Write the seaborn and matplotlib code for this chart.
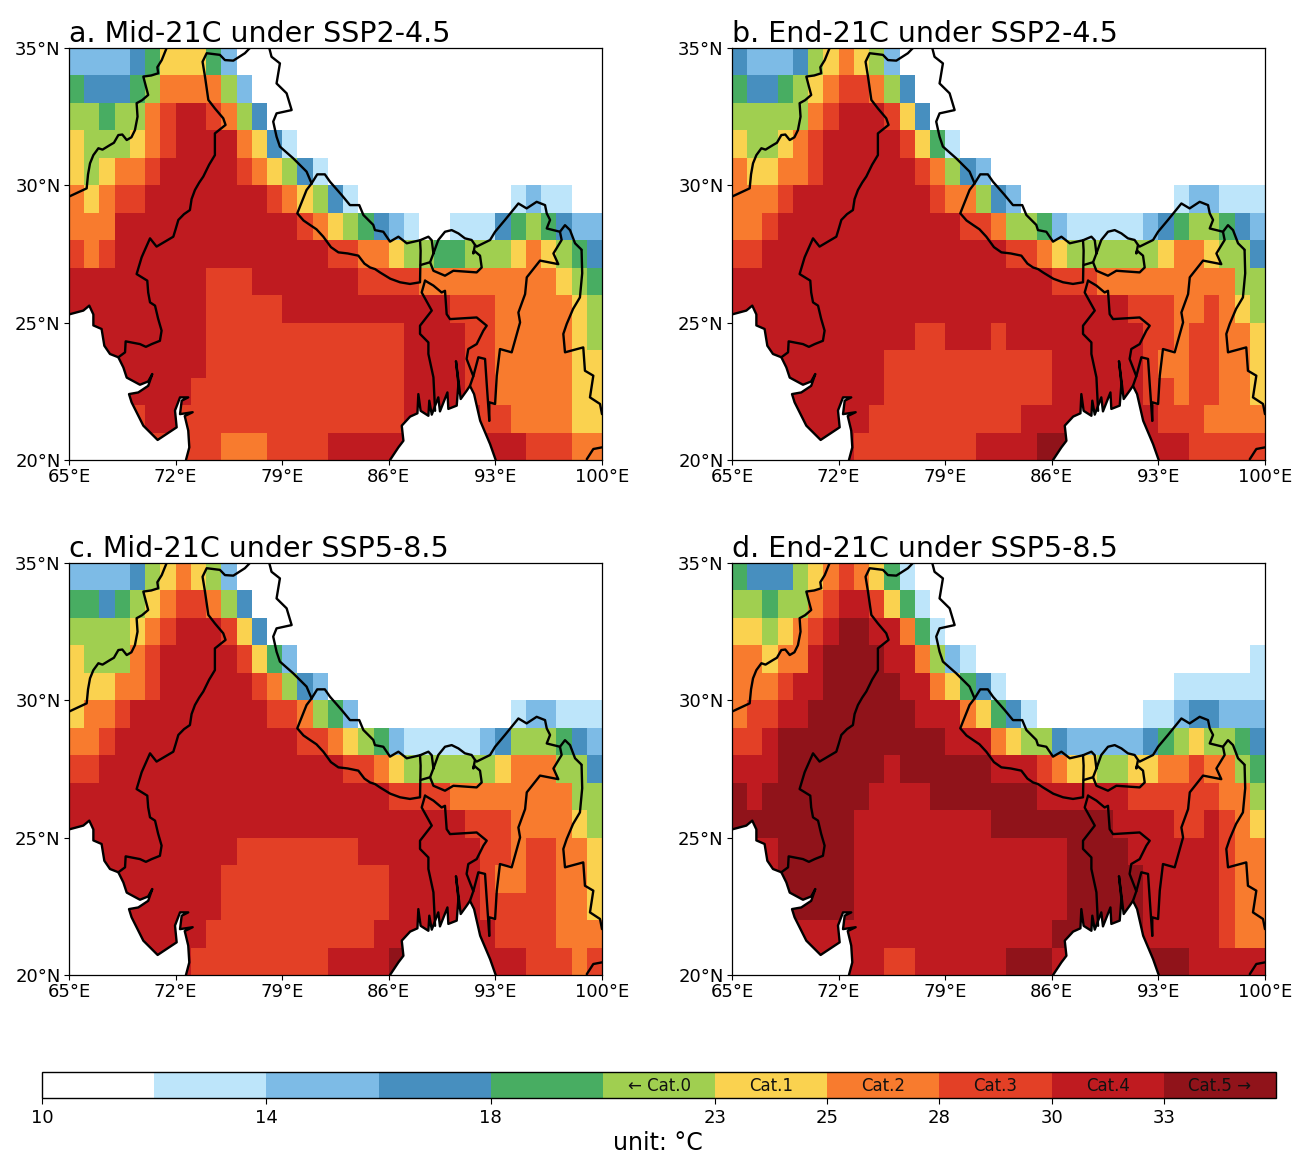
import numpy as np
import pandas as pd
import matplotlib
matplotlib.use("Agg")
import matplotlib.pyplot as plt
from matplotlib.colors import BoundaryNorm, ListedColormap
import seaborn as sns

sns.set_style("ticks")
plt.rcParams['font.family'] = ['DejaVu Sans']
plt.rcParams['text.color'] = 'black'
plt.rcParams['xtick.labelcolor'] = 'black'
plt.rcParams['ytick.labelcolor'] = 'black'
plt.rcParams['xtick.color'] = 'black'
plt.rcParams['ytick.color'] = 'black'
plt.rcParams['axes.edgecolor'] = 'black'
plt.rcParams['axes.titlecolor'] = 'black'

# colour classes, 1 degree grid, rows run from 35N down to 20N
# codes: 0-9 and A are the classes of the colour bar, a*n means n cells
levels = [10, 12, 14, 16, 18, 20, 23, 25, 28, 30, 33, 36]
colors = ['#ffffff', '#bde5fa', '#7dbbe6', '#478fbf', '#48ad62', '#a0cf50',
          '#fad24f', '#f87b2e', '#e34026', '#bf1b20', '#90131a']
cbar_ticks = [10, 14, 18, 23, 25, 28, 30, 33]
cat_labels = ['← Cat.0', 'Cat.1', 'Cat.2', 'Cat.3', 'Cat.4', 'Cat.5 →']
lons = list(range(65, 100))
lats = [34.5 - i for i in range(15)]

mid_a = [
    "2222 3 4 666 4 2",
    "4 333 4 5 7777 5 2",
    "55 4 55 7 8 99 8 7 5 3",
    "6 555 6 7 8 9999 7 6 3 1",
    "6 5 6 77 8 99999 8 7 6 5 3 1",
    "7 6 7 88 9*8 8 7 6 5 3 1 0*10 1 2 11 00",
    "777 9*12 8 7 6 5 4 3 2 1 00 111 3 4 5 4 3 22",
    "8 7 8 9*14 88 77 6 55 44 555 6 7 6 5 4 3",
    "9*9 888 9*7 8888 7*9 6 5 4",
    "9*9 8*5 9*11 888 7*5 6 5",
    "9*9 8*13 9999 88 7*5 6 5",
    "9*9 8*13 9999 88 7*5 66",
    "9*8 8*14 9999 88 7*5 66",
    "9999 8 99 8*15 9*5 88 7777 66",
    "9*5 8*5 777 8888 9*13 888 77",
]
end_b = [
    "3 222 3 5 6 7 6 5 2",
    "4 33 4 5 6 7 88 7 5 3",
    "55555 7 8 999 8 6 3",
    "6 55 6 7 8 99999 8 6 4 1",
    "7 66 77 8 999999 8 7 5 3 2",
    "777 8 9*9 8 77 5 3 2 0*10 1 22 111",
    "77 8 9*12 88 7 55 4 2 11111 2 3 4 55 4 3 2",
    "88 9*16 88 7 6 5*6 6 77 6 55 3",
    "9*21 888 7*9 55",
    "9*26 888 77 8 7 6 5",
    "9*12 88 999 8 9*9 88 7 88 77 6",
    "9*10 8*11 9*6 8 77 88 77 6",
    "9*10 8*11 9*6 88 7 88 77 6",
    "9*9 8*10 9*9 888 7777",
    "9*8 8*8 9*4 AA 9*8 8*5",
]
mid_c = [
    "2222 3 5 6 7 6 5 2",
    "44 3 4 5 6 7 88 7 5 3",
    "5555 6 7 8 999 8 6 3",
    "6 555 7 8 99999 8 6 4 2",
    "666 77 8 999999 8 7 5 3 2",
    "6 77 8 9*9 88 7 5 4 2 0*10 1 22 111",
    "77 8 9*12 88 7 6 5 4 2 11111 2 3 555 4 3 2",
    "88 9*16 88 7 6 5*6 6 777 55 3",
    "9*21 8888 7*8 55",
    "9*26 888 7777 6 5",
    "9*11 8*8 9*8 88 7 88 77 6",
    "9*10 8*11 9*6 8 77 88 77 6",
    "9*10 8*11 9*6 8*5 77 6",
    "9*9 8*11 9*8 8888 777",
    "9*8 8*9 9*4 A 9*8 888 7 8",
]
end_d = [
    "4 333 5 6 7 8 7 6 4 1",
    "55 4 55 7 8 99 8 6 4 1",
    "66 5 6 7 8 9 AA 99 7 4 1",
    "77 6 77 9 AAAA 99 7 5 2 1 0*18 1",
    "777 8 99 A*5 99 7 6 4 3 1 0*11 1*6",
    "7 88 99 A*7 999 7 6 4 3 1 0*7 11 2 33 222",
    "88 9 A*11 999 7 6 55 3 22222 3 4 5 6 55 4 3",
    "999 A*7 9 A*6 999 8 7 66 55 66 77 8 77 5 4",
    "A 9 A*7 9999 A*7 9*6 8*6 77 5",
    "A*8 9*9 A*8 9999 88 9 8 7 6",
    "999 A*5 9*14 AAAA 9*6 8 77",
    "999 A*5 9*14 A*5 9*5 8 77",
    "999 A*5 9*14 A*5 9*5 8 77",
    "9*21 A*6 9*5 8 77",
    "9*10 88 9*6 AAA 9*6 AAA 9*5",
]
titles = ['a. Mid-21C under SSP2-4.5', 'b. End-21C under SSP2-4.5',
          'c. Mid-21C under SSP5-8.5', 'd. End-21C under SSP5-8.5']

# coast and borders, traced as lon / lat
arabian_lon = [65.0, 65.94, 66.33, 66.6, 66.6, 67.14, 67.32, 67.69, 68.24, 68.57, 68.79, 69.66, 70.2, 70.47,
               70.2, 69.55, 68.94, 69.11, 69.88, 70.82, 72.07, 71.96, 72.29, 72.83, 72.4, 72.29, 73.12, 72.6,
               72.83, 72.9, 72.68]
arabian_lat = [25.3, 25.44, 25.62, 25.3, 24.9, 24.77, 24.16, 23.86, 23.74, 23.37, 23.0, 22.74, 22.86, 23.13,
               22.7, 22.46, 22.4, 22.1, 21.25, 20.73, 21.19, 21.8, 22.28, 22.28, 22.16, 21.67, 21.74, 21.6,
               21.07, 20.46, 20.0]
bengal_lon = [86.08, 86.63, 86.96, 86.85, 87.4, 87.88, 87.94, 88.09, 88.6, 88.66, 88.82, 89.25, 89.36, 89.85,
              89.91, 90.46, 90.57, 90.41, 90.6, 90.72, 91.11, 91.33, 91.6, 92.0, 92.65, 93.02]
bengal_lat = [20.0, 20.46, 20.7, 21.25, 21.58, 21.7, 22.4, 21.79, 21.61, 22.16, 21.65, 22.28, 21.77, 22.46,
              21.86, 21.98, 22.77, 23.6, 22.77, 22.22, 22.52, 22.7, 22.4, 21.43, 20.58, 20.0]
borders = [
    # Pakistan - Afghanistan
    ([65.0, 66.16, 66.25, 66.38, 66.6, 66.93, 67.2, 67.7, 67.95, 68.24, 68.5, 68.79, 69.1, 69.33, 69.5, 69.44, 69.8,
      70.2, 70.05, 69.88, 70.4, 70.86, 70.8, 71.09, 71.41],
     [29.59, 29.89, 30.4, 30.8, 31.1, 31.35, 31.3, 31.47, 31.55, 31.83, 31.85, 31.65, 31.75, 32.01, 32.5, 32.99, 33.1,
      33.29, 33.6, 33.96, 34.0, 34.08, 34.3, 34.56, 35.0]),
    # Pakistan - India
    ([76.88, 76.55, 75.79, 75.24, 74.91, 74.04, 73.77, 73.93, 74.15, 74.58, 75.13, 75.28, 74.58, 74.58, 74.2, 73.82,
      73.55, 73.27, 73.05, 72.94, 72.55, 72.18, 72.0, 71.85, 71.3, 70.75, 70.32, 69.88, 69.77, 69.44, 70.14, 70.2,
      70.32, 70.65, 70.85, 71.08, 70.97, 70.43, 70.05, 69.66, 68.72, 68.68, 68.24],
     [35.0, 34.81, 34.54, 34.56, 34.75, 34.81, 34.5, 33.96, 33.11, 32.8, 32.44, 32.2, 31.89, 31.1, 30.75, 30.32,
      30.1, 29.83, 29.5, 29.1, 28.95, 28.74, 28.4, 28.13, 27.95, 27.77, 28.07, 27.52, 27.38, 26.77, 26.53, 26.1,
      25.74, 25.62, 25.15, 24.71, 24.34, 24.22, 24.12, 24.22, 24.32, 23.92, 23.74]),
    # India and Nepal - China
    ([78.15, 78.3, 78.85, 78.63, 79.29, 79.62, 78.63, 78.41, 78.63, 78.85, 79.73, 80.6, 80.93, 81.3, 81.8, 82.14,
      82.9, 83.45, 84.06, 84.33, 84.98, 85.09, 85.64, 86.08, 86.63, 87.18, 88.05, 88.6, 88.82, 88.93],
     [35.0, 34.68, 34.44, 33.71, 33.35, 32.74, 32.62, 32.32, 31.77, 31.41, 30.98, 30.5, 30.07, 30.4, 30.4, 30.13,
      29.65, 29.28, 29.28, 28.92, 28.56, 28.37, 28.31, 27.95, 28.13, 27.89, 28.0, 28.13, 28.0, 27.52]),
    # Nepal, west and south
    ([80.93, 80.6, 80.16, 79.99, 80.4, 80.82, 81.25, 81.7, 82.2, 82.69, 83.3, 84.0, 84.4, 84.77, 85.1, 85.42, 86.1,
      86.74, 87.39, 88.05, 88.09, 88.05],
     [30.07, 29.83, 29.22, 28.98, 28.72, 28.56, 28.4, 28.13, 27.75, 27.56, 27.52, 27.44, 27.15, 27.01, 26.95, 26.83,
      26.6, 26.47, 26.41, 26.47, 27.62, 28.0]),
    # Sikkim south
    ([88.09, 88.71], [27.1, 27.2]),
    # Bhutan
    ([88.93, 88.71, 88.93, 89.69, 90.24, 91.77, 92.1, 91.99, 91.6, 91.55, 91.66, 91.44, 91.0, 90.57, 90.13, 89.69,
      89.25, 88.93],
     [27.52, 27.2, 26.89, 26.71, 26.89, 26.83, 27.01, 27.44, 27.62, 27.52, 27.83, 28.01, 28.07, 28.25, 28.37, 28.31,
      28.01, 27.52]),
    # north east India - China, then Myanmar - China
    ([91.66, 91.77, 92.65, 92.98, 93.63, 94.07, 94.51, 95.05, 95.71, 96.26, 96.37, 96.59, 96.37, 97.24, 97.57, 97.9,
      98.23, 98.67, 98.66, 98.7, 98.55, 98.1, 97.68, 97.46, 97.57, 98.77, 98.88, 99.43, 99.21, 99.87, 100.0],
     [27.83, 27.77, 28.01, 28.31, 28.74, 29.04, 29.34, 29.16, 29.4, 29.28, 28.98, 28.74, 28.43, 28.31, 28.55, 28.37,
      27.89, 27.65, 27.62, 26.8, 25.92, 25.5, 24.95, 24.59, 23.92, 24.1, 23.25, 23.07, 22.28, 22.04, 21.67]),
    # India - Myanmar
    ([97.24, 97.35, 96.81, 97.13, 95.93, 95.06, 94.95, 94.51, 94.62, 94.07, 93.3, 93.09, 92.98, 92.6, 92.6],
     [28.31, 28.01, 27.52, 27.13, 27.26, 26.65, 26.04, 25.37, 25.01, 23.92, 24.04, 23.07, 22.04, 22.1, 21.43]),
    # Bangladesh, west
    ([88.38, 88.16, 88.82, 88.05, 88.05, 88.6, 88.6, 88.93, 89.04],
     [26.53, 26.1, 25.44, 24.89, 24.59, 24.28, 23.86, 23.01, 21.79]),
    # Bangladesh, north and east
    ([88.38, 88.93, 89.47, 89.69, 89.8, 90.02, 91.77, 92.43, 92.21, 91.77, 91.22, 91.11, 91.55, 91.33],
     [26.53, 26.35, 26.1, 26.16, 25.31, 25.13, 25.19, 24.89, 24.71, 24.22, 24.04, 23.68, 23.05, 22.7]),
    # Tripura strip
    ([91.55, 91.88, 92.32, 92.43, 92.6], [23.05, 23.74, 23.68, 22.77, 21.43]),
    # Myanmar - Thailand
    ([99.0, 99.43, 100.0], [20.03, 20.4, 20.46]),
]

xtick_lons = [65, 72, 79, 86, 93, 100]
ytick_lats = [20, 25, 30, 35]

W, H = 1292, 1155
panels = [(69, 48), (732, 48), (69, 563), (732, 563)]
codes = '0123456789A'
mids = [(levels[i] + levels[i + 1]) / 2 for i in range(len(colors))]


def expand(row):
    out = ''
    for tok in row.split():
        if '*' in tok:
            c, n = tok.split('*')
            out += c * int(n)
        else:
            out += tok
    out = out.ljust(35, '0')
    assert len(out) == 35, (row, len(out))
    return out


def to_frame(rows):
    vals = [[mids[codes.index(c)] for c in expand(r)] for r in rows]
    return pd.DataFrame(vals, index=lats, columns=lons)


cmap = ListedColormap(colors)
norm = BoundaryNorm(levels, cmap.N)

fig = plt.figure(figsize=(W / 100, H / 100), dpi=100)

mesh = None
for rows, title, (px, py) in zip([mid_a, end_b, mid_c, end_d], titles, panels):
    ax = fig.add_axes([px / W, 1 - (py + 412) / H, 533 / W, 412 / H])
    sns.heatmap(to_frame(rows), ax=ax, cmap=cmap, norm=norm, cbar=False,
                xticklabels=False, yticklabels=False)
    mesh = ax.collections[0]

    # seas are masked out, heatmap y axis runs downward from 35N
    sx = [x - 65 for x in arabian_lon] + [0]
    sy = [35 - y for y in arabian_lat] + [15]
    ax.fill(sx, sy, color='white', lw=0, zorder=2)
    bx = [x - 65 for x in bengal_lon]
    by = [35 - y for y in bengal_lat]
    ax.fill(bx, by, color='white', lw=0, zorder=2)
    ax.plot(sx[:-1], sy[:-1], color='black', lw=1.7, zorder=3)
    ax.plot(bx, by, color='black', lw=1.7, zorder=3)
    for blon, blat in borders:
        ax.plot([x - 65 for x in blon], [35 - y for y in blat], color='black', lw=1.7, zorder=3)

    ax.set_xlim(0, 35)
    ax.set_ylim(15, 0)
    ax.set_xticks([x - 65 for x in xtick_lons])
    ax.set_xticklabels([f'{x}°E' for x in xtick_lons], fontsize=13)
    ax.set_yticks([35 - y for y in ytick_lats])
    ax.set_yticklabels([f'{y}°N' for y in ytick_lats], fontsize=13)
    ax.tick_params(length=3.5, width=0.8, left=True, bottom=True, pad=2.5)
    for s in ax.spines.values():
        s.set_visible(True)
        s.set_linewidth(0.9)
    ax.set_title(title, loc='left', fontsize=20.5, pad=4)
    ax.set_xlabel('')
    ax.set_ylabel('')

cax = fig.add_axes([42 / W, 1 - 1098 / H, 1234 / W, 26 / H])
cbar = fig.colorbar(mesh, cax=cax, orientation='horizontal', ticks=cbar_ticks)
cbar.ax.set_xticklabels([str(t) for t in cbar_ticks], fontsize=13)
cbar.ax.tick_params(length=4, width=0.8, pad=4)
cbar.ax.minorticks_off()
cbar.outline.set_linewidth(1.0)
for i, lab in enumerate(cat_labels):
    cax.text((i + 5.5) / 11, 0.47, lab, transform=cax.transAxes, ha='center', va='center',
             fontsize=12, color='#111111')
fig.text(658 / W, 1 - 1143 / H, 'unit: °C', ha='center', va='center', fontsize=17)

fig.savefig('out.png', dpi=100)
